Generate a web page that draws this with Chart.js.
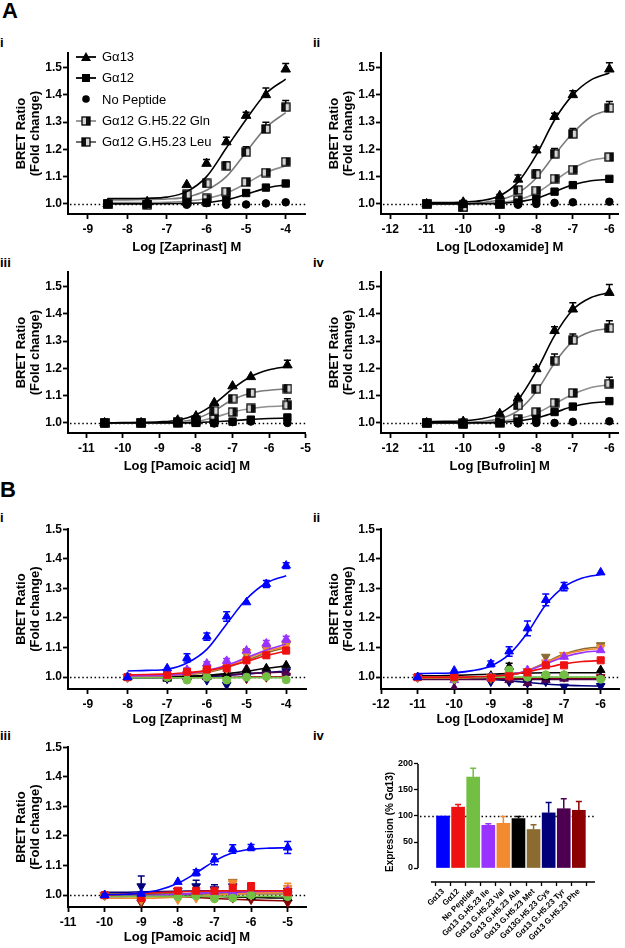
<!DOCTYPE html>
<html><head><meta charset="utf-8">
<script src="https://cdn.jsdelivr.net/npm/chart.js@4.4.1/dist/chart.umd.min.js"></script>
<style>
html,body{margin:0;padding:0;background:#fff;}
body{width:625px;height:948px;position:relative;overflow:hidden;font-family:"Liberation Sans",Arial,Helvetica,sans-serif;color:#000;}
.pl{position:absolute;font-weight:bold;line-height:1;white-space:nowrap;}
.big{font-size:22px;}
.sm{font-size:13px;}
canvas.ch{position:absolute;}
#legend{position:absolute;left:75px;top:46px;font-size:13px;line-height:1;}
.li{display:flex;align-items:center;height:21.3px;white-space:nowrap;}
.li canvas{margin-right:5px;}
</style></head><body>

<div class="pl big" style="left:2px;top:0px;">A</div>
<div class="pl sm" style="left:0px;top:36px;">i</div>
<div class="pl sm" style="left:313px;top:36px;">ii</div>
<div class="pl sm" style="left:0px;top:256px;">iii</div>
<div class="pl sm" style="left:313px;top:256px;">iv</div>
<div class="pl big" style="left:0px;top:479px;">B</div>
<div class="pl sm" style="left:0px;top:511px;">i</div>
<div class="pl sm" style="left:313px;top:511px;">ii</div>
<div class="pl sm" style="left:0px;top:729px;">iii</div>
<div class="pl sm" style="left:313px;top:729px;">iv</div>

<canvas class="ch" id="cAi" width="312" height="210" style="left:0px;top:45px;"></canvas>
<canvas class="ch" id="cAii" width="312" height="210" style="left:313px;top:45px;"></canvas>
<canvas class="ch" id="cAiii" width="314" height="210" style="left:0px;top:264px;"></canvas>
<canvas class="ch" id="cAiv" width="312" height="210" style="left:313px;top:264px;"></canvas>
<canvas class="ch" id="cBi" width="312" height="206" style="left:0px;top:521px;"></canvas>
<canvas class="ch" id="cBii" width="312" height="206" style="left:313px;top:521px;"></canvas>
<canvas class="ch" id="cBiii" width="312" height="206" style="left:0px;top:739px;"></canvas>
<canvas class="ch" id="cBiv" width="285" height="196" style="left:340px;top:752px;"></canvas>
<div id="legend"></div>

<script>
// ================= DATA =================
// ---- A i : Zaprinast ----
const AI_TICKS = [-9,-8,-7,-6,-5,-4];
const AI_X  = [-8.5,-7.5,-6.5,-6,-5.5,-5,-4.5,-4];
const AI_FX = [-8.5,-8,-7.5,-7,-6.5,-6,-5.5,-5,-4.5,-4];
const AI_G13 = [1.000,1.008,1.070,1.148,1.227,1.324,1.400,1.494];
const AI_G13_ERR = [0,0,0,0.015,0.018,0.012,0.025,0.021];
const AI_G13_FIT = [1.020,1.020,1.021,1.025,1.045,1.100,1.205,1.310,1.405,1.458];
const AI_G12 = [1.000,1.000,1.005,1.005,1.015,1.040,1.060,1.075];
const AI_G12_ERR = [0,0,0,0,0,0.004,0.004,0.004];
const AI_G12_FIT = [1.000,1.000,1.000,1.001,1.002,1.005,1.015,1.035,1.058,1.070];
const AI_NOP = [1.000,1.000,0.997,1.003,0.997,0.998,1.002,1.006];
const AI_LEU = [1.000,0.997,1.035,1.075,1.140,1.190,1.275,1.355];
const AI_LEU_ERR = [0,0,0,0.010,0.014,0.020,0.025,0.024];
const AI_LEU_FIT = [1.015,1.015,1.016,1.018,1.025,1.050,1.100,1.190,1.280,1.335];
const AI_GLN = [1.000,1.000,1.010,1.020,1.045,1.080,1.115,1.155];
const AI_GLN_ERR = [0,0,0,0.004,0.006,0.006,0.006,0.006];
const AI_GLN_FIT = [1.005,1.005,1.005,1.006,1.010,1.020,1.040,1.075,1.115,1.140];

// ---- A ii : Lodoxamide ----
const AII_TICKS = [-12,-11,-10,-9,-8,-7,-6];
const AII_X  = [-11,-10,-9,-8.5,-8,-7.5,-7,-6];
const AII_FX = [-11,-10.5,-10,-9.5,-9,-8.5,-8,-7.5,-7,-6.5,-6];
const AII_G13 = [1.000,1.006,1.030,1.090,1.197,1.320,1.400,1.494];
const AII_G13_ERR = [0,0,0.005,0.016,0.012,0.013,0.015,0.024];
const AII_G13_FIT = [1.005,1.005,1.007,1.012,1.030,1.080,1.180,1.308,1.400,1.455,1.480];
const AII_G12 = [1.000,1.000,1.000,1.005,1.018,1.045,1.069,1.092];
const AII_G12_FIT = [1.000,1.000,1.000,1.001,1.002,1.008,1.020,1.045,1.070,1.085,1.090];
const AII_NOP = [1.000,1.000,1.000,0.997,1.000,1.004,1.006,1.008];
const AII_LEU = [1.000,0.988,1.000,1.051,1.109,1.184,1.257,1.352];
const AII_LEU_ERR = [0,0,0,0.010,0.015,0.019,0.020,0.024];
const AII_LEU_FIT = [1.000,1.000,1.000,1.005,1.015,1.040,1.095,1.180,1.260,1.320,1.345];
const AII_GLN = [1.000,0.990,1.000,1.015,1.049,1.093,1.126,1.172];
const AII_GLN_ERR = [0,0,0,0,0.004,0.006,0.006,0.006];
const AII_GLN_FIT = [1.000,1.000,1.000,1.002,1.005,1.015,1.040,1.085,1.130,1.160,1.170];

// ---- A iii : Pamoic acid ----
const AIII_TICKS = [-11,-10,-9,-8,-7,-6,-5];
const AIII_X  = [-10.5,-9.5,-8.5,-8,-7.5,-7,-6.5,-5.5];
const AIII_FX = [-10.5,-10,-9.5,-9,-8.5,-8,-7.5,-7,-6.5,-6,-5.5];
const AIII_G13 = [1.000,1.000,1.010,1.025,1.074,1.135,1.169,1.212];
const AIII_G13_ERR = [0,0,0,0,0,0,0,0.018];
const AIII_G13_FIT = [1.000,1.001,1.002,1.004,1.010,1.030,1.070,1.125,1.170,1.195,1.207];
const AIII_G12 = [1.000,1.000,1.000,1.000,1.000,1.005,1.012,1.020];
const AIII_G12_FIT = [1.000,1.000,1.000,1.000,1.000,1.001,1.004,1.008,1.013,1.016,1.018];
const AIII_NOP = [1.000,1.000,1.000,1.000,0.998,1.003,1.005,1.000];
const AIII_LEU = [1.000,1.000,1.005,1.010,1.045,1.089,1.110,1.126];
const AIII_LEU_ERR = [0,0,0,0,0.005,0.005,0.006,0.012];
const AIII_LEU_FIT = [1.000,1.000,1.000,1.000,1.003,1.015,1.045,1.085,1.110,1.120,1.125];
const AIII_GLN = [1.000,1.000,1.000,1.005,1.015,1.040,1.053,1.065];
const AIII_GLN_ERR = [0,0,0,0,0,0.006,0.010,0.024];
const AIII_GLN_FIT = [1.000,1.000,1.000,1.000,1.001,1.005,1.020,1.040,1.053,1.060,1.063];

// ---- A iv : Bufrolin ----
const AIV_TICKS = [-12,-11,-10,-9,-8,-7,-6];
const AIV_X  = [-11,-10,-9,-8.5,-8,-7.5,-7,-6];
const AIV_FX = [-11,-10.5,-10,-9.5,-9,-8.5,-8,-7.5,-7,-6.5,-6];
const AIV_G13 = [1.000,1.005,1.034,1.091,1.198,1.338,1.417,1.478];
const AIV_G13_ERR = [0,0,0.004,0.006,0.008,0.015,0.024,0.030];
const AIV_G13_FIT = [1.005,1.006,1.008,1.015,1.035,1.085,1.190,1.320,1.415,1.460,1.478];
const AIV_G12 = [1.000,0.995,1.000,1.005,1.015,1.040,1.060,1.080];
const AIV_G12_FIT = [1.000,1.000,1.000,1.000,1.002,1.007,1.018,1.038,1.060,1.073,1.078];
const AIV_NOP = [1.000,1.000,1.000,0.998,1.000,1.000,1.004,1.006];
const AIV_LEU = [1.000,1.000,1.005,1.064,1.125,1.229,1.304,1.348];
const AIV_LEU_ERR = [0,0,0,0.006,0.008,0.024,0.022,0.027];
const AIV_LEU_FIT = [1.000,1.000,1.001,1.005,1.015,1.045,1.115,1.220,1.300,1.335,1.347];
const AIV_GLN = [1.000,0.995,1.000,1.015,1.040,1.074,1.110,1.144];
const AIV_GLN_ERR = [0,0,0,0,0.006,0.006,0.008,0.024];
const AIV_GLN_FIT = [1.000,1.000,1.000,1.002,1.006,1.015,1.035,1.070,1.105,1.130,1.140];

// ---- B i : Zaprinast ----
const BI_TICKS = [-9,-8,-7,-6,-5,-4];
const BI_X  = [-8,-7,-6.5,-6,-5.5,-5,-4.5,-4];
const BI_FX = [-8,-7.5,-7,-6.5,-6,-5.5,-5,-4.5,-4];
const BI_G13 = [1.000,1.030,1.065,1.137,1.205,1.253,1.315,1.377];
const BI_G13_ERR = [0,0,0.014,0.012,0.016,0,0.012,0.010];
const BI_G13_FIT = [1.021,1.023,1.027,1.048,1.094,1.180,1.264,1.318,1.343];
const BI_G12 = [1.000,1.008,1.018,1.026,1.030,1.057,1.074,1.090];
const BI_G12_ERR = [0,0.005,0.004,0.006,0.008,0.008,0.008,0.010];
const BI_G12_FIT = [1.008,1.009,1.011,1.015,1.022,1.035,1.053,1.073,1.088];
const BI_NOP = [1.000,1.000,0.990,1.000,0.990,1.000,1.002,0.991];
const BI_NOP_FIT = [0.998,0.998,0.998,0.998,0.998,0.998,0.998,0.998,0.998];
const BI_ILE = [1.000,1.005,1.025,1.046,1.055,1.090,1.114,1.128];
const BI_ILE_ERR = [0,0,0.006,0.006,0.008,0.006,0.010,0.010];
const BI_ILE_FIT = [1.004,1.005,1.007,1.012,1.022,1.040,1.066,1.092,1.112];
const BI_VAL = [1.000,1.003,1.010,1.020,1.030,1.085,1.100,1.115];
const BI_VAL_ERR = [0,0,0,0,0,0.006,0.006,0.008];
const BI_VAL_FIT = [1.003,1.004,1.006,1.010,1.018,1.036,1.062,1.088,1.104];
const BI_ALA = [1.000,0.995,1.000,1.003,1.010,1.024,1.030,1.040];
const BI_ALA_FIT = [1.000,1.000,1.001,1.003,1.006,1.012,1.020,1.030,1.038];
const BI_MET = [1.000,1.002,1.005,1.015,1.028,1.075,1.095,1.110];
const BI_MET_FIT = [1.002,1.003,1.005,1.009,1.016,1.032,1.056,1.082,1.100];
const BI_CYS = [1.000,0.995,0.998,0.990,0.974,1.000,1.010,1.020];
const BI_CYS_FIT = [0.998,0.998,0.999,1.000,1.002,1.006,1.011,1.016,1.020];
const BI_TYR = [1.000,1.000,1.005,1.000,1.010,1.028,1.020,1.015];
const BI_TYR_FIT = [1.000,1.000,1.001,1.002,1.004,1.008,1.012,1.015,1.017];
const BI_PHE = [1.000,1.002,0.998,1.000,1.000,0.995,1.000,1.005];
const BI_PHE_FIT = [0.999,0.999,0.999,0.999,0.999,0.999,1.000,1.000,1.000];

// ---- B ii : Lodoxamide ----
const BII_TICKS = [-12,-11,-10,-9,-8,-7,-6];
const BII_X  = [-11,-10,-9,-8.5,-8,-7.5,-7,-6];
const BII_FX = [-11,-10.5,-10,-9.5,-9,-8.5,-8,-7.5,-7,-6.5,-6];
const BII_G13 = [1.000,1.022,1.045,1.087,1.165,1.261,1.306,1.354];
const BII_G13_ERR = [0,0,0.010,0.016,0.025,0.020,0.014,0];
const BII_G13_FIT = [1.012,1.013,1.015,1.022,1.038,1.077,1.150,1.245,1.305,1.335,1.347];
const BII_G12 = [1.000,1.000,0.998,1.003,1.016,1.040,1.040,1.057];
const BII_G12_ERR = [0,0,0,0,0.004,0.006,0.006,0.006];
const BII_G12_FIT = [1.000,1.000,1.000,1.001,1.003,1.008,1.018,1.032,1.045,1.053,1.056];
const BII_NOP = [1.000,0.995,0.998,1.024,1.000,1.008,1.008,0.993];
const BII_NOP_FIT = [1.000,1.000,1.000,1.000,1.000,1.000,1.000,1.000,1.000,1.000,1.000];
const BII_ILE = [1.000,0.990,1.000,1.005,1.024,1.046,1.069,1.091];
const BII_ILE_FIT = [1.000,1.000,1.000,1.000,1.002,1.008,1.022,1.045,1.068,1.083,1.089];
const BII_VAL = [1.000,0.995,1.000,1.008,1.020,1.050,1.075,1.100];
const BII_VAL_FIT = [0.998,0.998,0.998,0.999,1.001,1.007,1.022,1.048,1.075,1.090,1.097];
const BII_ALA = [1.000,1.000,1.005,1.035,1.000,1.000,1.005,1.024];
const BII_ALA_ERR = [0,0,0,0.012,0,0,0,0];
const BII_ALA_FIT = [1.005,1.005,1.006,1.008,1.010,1.012,1.014,1.015,1.015,1.015,1.015];
const BII_MET = [1.000,0.995,0.995,1.005,1.020,1.069,1.075,1.108];
const BII_MET_FIT = [0.997,0.997,0.997,0.998,1.000,1.006,1.022,1.050,1.078,1.095,1.102];
const BII_CYS = [1.000,0.990,0.985,0.985,0.980,0.985,0.968,0.970];
const BII_CYS_FIT = [1.000,1.000,0.999,0.997,0.993,0.988,0.982,0.977,0.973,0.971,0.970];
const BII_TYR = [1.000,0.963,1.000,0.990,0.980,0.990,0.995,1.000];
const BII_TYR_FIT = [0.992,0.992,0.992,0.992,0.992,0.992,0.992,0.992,0.992,0.992,0.992];
const BII_PHE = [1.000,0.995,0.990,1.000,0.995,1.000,1.000,1.000];
const BII_PHE_FIT = [0.996,0.996,0.996,0.996,0.996,0.996,0.996,0.996,0.996,0.996,0.996];

// ---- B iii : Pamoic acid ----
const BIII_TICKS = [-11,-10,-9,-8,-7,-6,-5];
const BIII_X  = [-10,-9,-8,-7.5,-7,-6.5,-6,-5];
const BIII_FX = [-10,-9.5,-9,-8.5,-8,-7.5,-7,-6.5,-6,-5.5,-5];
const BIII_G13 = [1.000,1.005,1.045,1.076,1.121,1.156,1.161,1.161];
const BIII_G13_ERR = [0,0,0,0.010,0.018,0.014,0.010,0.020];
const BIII_G13_FIT = [1.002,1.003,1.007,1.018,1.040,1.075,1.115,1.143,1.155,1.159,1.160];
const BIII_G12 = [1.000,0.990,1.015,1.015,1.015,1.025,1.030,1.010];
const BIII_G12_ERR = [0,0,0,0,0,0.010,0.012,0];
const BIII_G12_FIT = [1.000,1.003,1.006,1.009,1.011,1.013,1.014,1.015,1.015,1.015,1.015];
const BIII_NOP = [1.000,0.995,0.995,0.998,0.988,0.990,1.000,0.995];
const BIII_NOP_FIT = [0.996,0.996,0.996,0.996,0.996,0.996,0.996,0.996,0.996,0.996,0.996];
const BIII_ILE = [1.000,0.990,1.005,1.010,1.010,1.010,1.010,1.015];
const BIII_ILE_FIT = [0.995,0.996,0.998,1.000,1.003,1.006,1.009,1.011,1.012,1.013,1.013];
const BIII_VAL = [1.000,0.985,0.985,0.990,0.990,1.040,1.000,1.025];
const BIII_VAL_ERR = [0,0,0,0,0,0.010,0,0.015];
const BIII_VAL_FIT = [0.990,0.990,0.990,0.991,0.993,0.996,1.000,1.004,1.007,1.009,1.010];
const BIII_ALA = [1.000,1.000,1.005,1.000,1.005,1.000,0.995,0.990];
const BIII_ALA_FIT = [1.003,1.003,1.003,1.003,1.002,1.000,0.997,0.994,0.992,0.991,0.990];
const BIII_MET = [1.000,0.980,1.000,1.000,1.000,1.045,1.000,1.000];
const BIII_MET_FIT = [1.004,1.004,1.004,1.004,1.004,1.004,1.004,1.004,1.004,1.004,1.004];
const BIII_CYS = [1.000,1.030,1.015,1.030,1.020,1.030,1.000,1.015];
const BIII_CYS_ERR = [0,0.035,0,0.020,0.015,0.020,0,0];
const BIII_CYS_FIT = [1.010,1.010,1.011,1.012,1.013,1.014,1.015,1.015,1.015,1.015,1.015];
const BIII_TYR = [1.000,0.995,1.000,1.005,1.010,1.015,1.000,1.020];
const BIII_TYR_FIT = [0.998,0.999,1.000,1.002,1.004,1.006,1.008,1.010,1.011,1.012,1.012];
const BIII_PHE = [1.000,0.975,1.000,1.000,0.995,0.990,0.985,0.975];
const BIII_PHE_FIT = [1.000,1.000,0.999,0.997,0.995,0.992,0.989,0.986,0.984,0.982,0.981];

// ---- B iv : expression bar chart ----
const BAR_LABELS = ['Gα13','Gα12','No Peptide','Gα13 G.H5.23 Ile','Gα13 G.H5.23 Val','Gα13 G.H5.23 Ala','Gα13 G.H5.23 Met','Gα13G.H5.23 Cys','Gα13 G.H5.23 Tyr','Gα13 G.H5.23 Phe'];
const BAR_VALUES = [100,117,175,82,86,95,74,106,114,111];
const BAR_ERR = [0,5,17,3,13,4,9,20,19,17];
const BAR_TICKS = [0,50,100,150,200];

const Y_TICKS = [1.0,1.1,1.2,1.3,1.4,1.5];
const LEGEND_LABELS = ['Gα13','Gα12','No Peptide','Gα12 G.H5.22 Gln','Gα12 G.H5.23 Leu'];

// ================= STYLE =================
const FONT = '"Liberation Sans", Arial, Helvetica, sans-serif';
const C = {g13:'#0000ff', g12:'#ee1111', nop:'#72bf44', ile:'#9933ff', val:'#f28a30', ala:'#000000',
           met:'#8c6b30', cys:'#00007a', tyr:'#4d0050', phe:'#8b0000'};
const BAR_COLORS = [C.g13,C.g12,C.nop,C.ile,C.val,C.ala,C.met,C.cys,C.tyr,C.phe];

function halfSquare(darkRight){
  const c = document.createElement('canvas'); c.width = 10; c.height = 10;
  const g = c.getContext('2d');
  g.fillStyle = '#d6d6d6'; g.fillRect(1,1,8,8);
  g.fillStyle = '#111'; if (darkRight) g.fillRect(5,1,4,8); else g.fillRect(1,1,4,8);
  g.strokeStyle = '#000'; g.lineWidth = 1.3; g.strokeRect(1,1,8,8);
  return c;
}
const SQ_GLN = halfSquare(true);
const SQ_LEU = halfSquare(false);

// ================= PLUGINS =================
const refLine = {
  id:'refLine',
  beforeDatasetsDraw(chart, args, opts){
    if (opts.value === undefined) return;
    const {ctx, chartArea:a, scales:{y}} = chart;
    const py = Math.round(y.getPixelForValue(opts.value)) + 0.5;
    ctx.save(); ctx.strokeStyle = '#000'; ctx.lineWidth = 1.5; ctx.setLineDash([1.5,2.6]);
    ctx.beginPath(); ctx.moveTo(a.left + 2, py); ctx.lineTo(a.right, py); ctx.stroke(); ctx.restore();
  }
};
const errBars = {
  id:'errBars',
  beforeDatasetDraw(chart, args){
    const ds = chart.data.datasets[args.index];
    if (!ds.errors) return;
    const y = chart.scales.y, ctx = chart.ctx;
    ctx.save(); ctx.lineWidth = 1.5; ctx.setLineDash([]);
    args.meta.data.forEach((el, i) => {
      const e = ds.errors[i]; if (!e) return;
      const d = ds.data[i]; const v = (typeof d === 'object') ? d.y : d;
      ctx.strokeStyle = Array.isArray(ds.errColor) ? ds.errColor[i] : ds.errColor;
      const top = y.getPixelForValue(v + e);
      const bot = ds.errBoth ? y.getPixelForValue(v - e) : el.y;
      const cw = ds.capW || 3.5;
      ctx.beginPath(); ctx.moveTo(el.x, bot); ctx.lineTo(el.x, top);
      ctx.moveTo(el.x - cw, top); ctx.lineTo(el.x + cw, top);
      if (ds.errBoth){ ctx.moveTo(el.x - cw, bot); ctx.lineTo(el.x + cw, bot); }
      ctx.stroke();
    });
    ctx.restore();
  }
};
const barAxes = {
  id:'barAxes',
  afterDraw(chart, args, opts){
    const {ctx, chartArea:a, scales:{x, y}} = chart;
    ctx.save(); ctx.strokeStyle = '#000'; ctx.lineWidth = 1.5;
    ctx.beginPath();
    ctx.moveTo(a.left, y.getPixelForValue(0)); ctx.lineTo(a.left, y.getPixelForValue(200));
    ctx.moveTo(x.getPixelForValue(opts.xStart), a.bottom); ctx.lineTo(a.right, a.bottom);
    ctx.stroke(); ctx.restore();
  }
};

function mk(xs, ys){ return xs.map((x, i) => ({x, y: ys[i]})); }

function linePanel(id, o){
  const ds = [];
  o.series.forEach(s => {
    ds.push({
      data: mk(o.x, s.y), showLine:false,
      pointStyle: s.style, pointRotation: s.rot || 0, pointRadius: s.r, pointHoverRadius: s.r,
      pointBackgroundColor: s.fill || s.color, pointBorderColor: s.color, pointBorderWidth: 1,
      errors: s.err, errBoth: o.both, errColor: s.errColor || s.color
    });
    if (s.fit) ds.push({
      data: mk(o.fx, s.fit), showLine:true, pointRadius:0, borderColor: s.line || s.color,
      borderWidth: 1.6, cubicInterpolationMode:'monotone', fill:false
    });
  });
  const tickFont = {family:FONT, size:12, weight:'bold'};
  const titleFont = {family:FONT, size:13, weight:'bold', lineHeight:1.1};
  return new Chart(document.getElementById(id), {
    type:'scatter',
    data:{datasets: ds},
    options:{
      responsive:false, maintainAspectRatio:false, animation:false, devicePixelRatio:1, events:[],
      layout:{padding:o.pad},
      plugins:{legend:{display:false}, tooltip:{enabled:false}, refLine:{value:1}},
      scales:{
        x:{
          type:'linear', min:o.xMin, max:o.xMax,
          afterBuildTicks: s => { s.ticks = o.xTicks.map(v => ({value:v})); },
          afterFit: s => { s.height = o.xh; },
          ticks:{color:'#000', font:tickFont, padding:3, maxRotation:0, autoSkip:false, callback: v => String(v)},
          grid:{display:true, drawOnChartArea:false, drawTicks:true, tickLength:5, tickWidth:1.8, tickColor:'#000'},
          border:{display:true, color:'#000', width:2},
          title:{display:true, text:o.xTitle, color:'#000', font:titleFont, padding:{top:0, bottom:0}}
        },
        y:{
          type:'linear', min:o.yMin, max:o.yMax,
          afterBuildTicks: s => { s.ticks = Y_TICKS.map(v => ({value:v})); },
          afterFit: s => { s.width = 68; },
          ticks:{color:'#000', font:tickFont, padding:1, autoSkip:false, callback: v => Number(v).toFixed(1)},
          grid:{display:true, drawOnChartArea:false, drawTicks:true, tickLength:5, tickWidth:1.8, tickColor:'#000'},
          border:{display:true, color:'#000', width:2},
          title:{display:true, text:['BRET Ratio','(Fold change)'], color:'#000', font:titleFont, padding:{top:14, bottom:0}}
        }
      }
    },
    plugins:[refLine, errBars]
  });
}

// ---- A panel series builder ----
function aSeries(g13, g13e, g13f, g12, g12e, g12f, nop, leu, leue, leuf, gln, glne, glnf){
  return [
    {y:g13, err:g13e, fit:g13f, color:'#000', style:'triangle', r:5.5, errColor:'#000'},
    {y:g12, err:g12e, fit:g12f, color:'#000', style:'rect', r:5.2, errColor:'#000'},
    {y:nop, color:'#000', style:'circle', r:3.8},
    {y:leu, err:leue, fit:leuf, color:'#000', line:'#7a7a7a', style:SQ_LEU, r:5, errColor:'#000'},
    {y:gln, err:glne, fit:glnf, color:'#000', line:'#8f8f8f', style:SQ_GLN, r:5, errColor:'#000'}
  ];
}
const A_Y = {yMin:0.963, yMax:1.553, xh:41, both:false};

linePanel('cAi', Object.assign({}, A_Y, {pad:{top:8,right:2,left:0,bottom:0}, xMin:-9.5, xMax:-3.5, xTicks:AI_TICKS,
  xTitle:'Log [Zaprinast] M', x:AI_X, fx:AI_FX,
  series: aSeries(AI_G13,AI_G13_ERR,AI_G13_FIT,AI_G12,AI_G12_ERR,AI_G12_FIT,AI_NOP,AI_LEU,AI_LEU_ERR,AI_LEU_FIT,AI_GLN,AI_GLN_ERR,AI_GLN_FIT)}));
linePanel('cAii', Object.assign({}, A_Y, {pad:{top:8,right:1,left:0,bottom:0}, xMin:-12.25, xMax:-5.75, xTicks:AII_TICKS,
  xTitle:'Log [Lodoxamide] M', x:AII_X, fx:AII_FX,
  series: aSeries(AII_G13,AII_G13_ERR,AII_G13_FIT,AII_G12,null,AII_G12_FIT,AII_NOP,AII_LEU,AII_LEU_ERR,AII_LEU_FIT,AII_GLN,AII_GLN_ERR,AII_GLN_FIT)}));
linePanel('cAiii', Object.assign({}, A_Y, {pad:{top:8,right:2,left:0,bottom:0}, xMin:-11.5, xMax:-5, xTicks:AIII_TICKS,
  xTitle:'Log [Pamoic acid] M', x:AIII_X, fx:AIII_FX,
  series: aSeries(AIII_G13,AIII_G13_ERR,AIII_G13_FIT,AIII_G12,null,AIII_G12_FIT,AIII_NOP,AIII_LEU,AIII_LEU_ERR,AIII_LEU_FIT,AIII_GLN,AIII_GLN_ERR,AIII_GLN_FIT)}));
linePanel('cAiv', Object.assign({}, A_Y, {pad:{top:8,right:1,left:0,bottom:0}, xMin:-12.25, xMax:-5.75, xTicks:AIV_TICKS,
  xTitle:'Log [Bufrolin] M', x:AIV_X, fx:AIV_FX,
  series: aSeries(AIV_G13,AIV_G13_ERR,AIV_G13_FIT,AIV_G12,null,AIV_G12_FIT,AIV_NOP,AIV_LEU,AIV_LEU_ERR,AIV_LEU_FIT,AIV_GLN,AIV_GLN_ERR,AIV_GLN_FIT)}));

// ---- B panel series builder ----
function bSeries(p){
  return [
    {y:p.G13, err:p.G13_ERR, fit:p.G13_FIT, color:C.g13, style:'triangle', r:5},
    {y:p.G12, err:p.G12_ERR, fit:p.G12_FIT, color:C.g12, style:'rect', r:5},
    {y:p.NOP, err:p.NOP_ERR, fit:p.NOP_FIT, color:C.nop, style:'circle', r:4},
    {y:p.ILE, err:p.ILE_ERR, fit:p.ILE_FIT, color:C.ile, style:'triangle', r:5},
    {y:p.VAL, err:p.VAL_ERR, fit:p.VAL_FIT, color:C.val, style:'triangle', rot:180, r:5},
    {y:p.MET, err:p.MET_ERR, fit:p.MET_FIT, color:C.met, style:'triangle', rot:180, r:5},
    {y:p.ALA, err:p.ALA_ERR, fit:p.ALA_FIT, color:C.ala, style:'triangle', r:5},
    {y:p.TYR, err:p.TYR_ERR, fit:p.TYR_FIT, color:C.tyr, style:'triangle', r:5},
    {y:p.CYS, err:p.CYS_ERR, fit:p.CYS_FIT, color:C.cys, style:'triangle', rot:180, r:5},
    {y:p.PHE, err:p.PHE_ERR, fit:p.PHE_FIT, color:C.phe, style:'triangle', rot:180, r:5}
  ];
}
const B_Y = {yMin:0.96, yMax:1.5, xh:38, both:true};

linePanel('cBi', Object.assign({}, B_Y, {pad:{top:8,right:2,left:0,bottom:0}, xMin:-9.5, xMax:-3.5, xTicks:BI_TICKS,
  xTitle:'Log [Zaprinast] M', x:BI_X, fx:BI_FX,
  series: bSeries({G13:BI_G13,G13_ERR:BI_G13_ERR,G13_FIT:BI_G13_FIT,G12:BI_G12,G12_ERR:BI_G12_ERR,G12_FIT:BI_G12_FIT,
    NOP:BI_NOP,NOP_FIT:BI_NOP_FIT,ILE:BI_ILE,ILE_ERR:BI_ILE_ERR,ILE_FIT:BI_ILE_FIT,VAL:BI_VAL,VAL_ERR:BI_VAL_ERR,VAL_FIT:BI_VAL_FIT,
    ALA:BI_ALA,ALA_FIT:BI_ALA_FIT,MET:BI_MET,MET_FIT:BI_MET_FIT,CYS:BI_CYS,CYS_FIT:BI_CYS_FIT,TYR:BI_TYR,TYR_FIT:BI_TYR_FIT,PHE:BI_PHE,PHE_FIT:BI_PHE_FIT})}));
linePanel('cBii', Object.assign({}, B_Y, {pad:{top:8,right:5,left:0,bottom:0}, xMin:-12, xMax:-5.5, xTicks:BII_TICKS,
  xTitle:'Log [Lodoxamide] M', x:BII_X, fx:BII_FX,
  series: bSeries({G13:BII_G13,G13_ERR:BII_G13_ERR,G13_FIT:BII_G13_FIT,G12:BII_G12,G12_ERR:BII_G12_ERR,G12_FIT:BII_G12_FIT,
    NOP:BII_NOP,NOP_FIT:BII_NOP_FIT,ILE:BII_ILE,ILE_FIT:BII_ILE_FIT,VAL:BII_VAL,VAL_FIT:BII_VAL_FIT,
    ALA:BII_ALA,ALA_ERR:BII_ALA_ERR,ALA_FIT:BII_ALA_FIT,MET:BII_MET,MET_FIT:BII_MET_FIT,CYS:BII_CYS,CYS_FIT:BII_CYS_FIT,TYR:BII_TYR,TYR_FIT:BII_TYR_FIT,PHE:BII_PHE,PHE_FIT:BII_PHE_FIT})}));
linePanel('cBiii', Object.assign({}, B_Y, {pad:{top:8,right:2,left:0,bottom:0}, xMin:-11, xMax:-4.5, xTicks:BIII_TICKS,
  xTitle:'Log [Pamoic acid] M', x:BIII_X, fx:BIII_FX,
  series: bSeries({G13:BIII_G13,G13_ERR:BIII_G13_ERR,G13_FIT:BIII_G13_FIT,G12:BIII_G12,G12_ERR:BIII_G12_ERR,G12_FIT:BIII_G12_FIT,
    NOP:BIII_NOP,NOP_FIT:BIII_NOP_FIT,ILE:BIII_ILE,ILE_FIT:BIII_ILE_FIT,VAL:BIII_VAL,VAL_ERR:BIII_VAL_ERR,VAL_FIT:BIII_VAL_FIT,
    ALA:BIII_ALA,ALA_FIT:BIII_ALA_FIT,MET:BIII_MET,MET_FIT:BIII_MET_FIT,CYS:BIII_CYS,CYS_ERR:BIII_CYS_ERR,CYS_FIT:BIII_CYS_FIT,TYR:BIII_TYR,TYR_FIT:BIII_TYR_FIT,PHE:BIII_PHE,PHE_FIT:BIII_PHE_FIT})}));

// ---- B iv bar chart ----
new Chart(document.getElementById('cBiv'), {
  type:'bar',
  data:{datasets:[{
    data: BAR_VALUES.map((v, i) => ({x:i, y:v})),
    backgroundColor: BAR_COLORS, borderWidth:0, barThickness:13,
    errors: BAR_ERR, errBoth:false, errColor: BAR_COLORS, capW:3
  }]},
  options:{
    responsive:false, maintainAspectRatio:false, animation:false, devicePixelRatio:1, events:[],
    layout:{padding:{top:10, right:30, left:0, bottom:0}},
    plugins:{legend:{display:false}, tooltip:{enabled:false}, refLine:{value:100}, barAxes:{xStart:-0.8}},
    scales:{
      x:{
        type:'linear', min:-1.656, max:10.07, offset:false,
        afterBuildTicks: s => { s.ticks = BAR_LABELS.map((l, i) => ({value:i})); },
        afterFit: s => { s.height = 66; },
        ticks:{color:'#000', font:{family:FONT, size:8, weight:'bold'}, padding:1, minRotation:45, maxRotation:45, autoSkip:false,
               callback: v => BAR_LABELS[v]},
        grid:{display:true, drawOnChartArea:false, drawTicks:true, tickLength:4, tickWidth:1.3, tickColor:'#000'},
        border:{display:false}
      },
      y:{
        type:'linear', min:-26.9, max:203.8,
        afterBuildTicks: s => { s.ticks = BAR_TICKS.map(v => ({value:v})); },
        afterFit: s => { s.width = 78; },
        ticks:{color:'#000', font:{family:FONT, size:9, weight:'bold'}, padding:1, autoSkip:false},
        grid:{display:true, drawOnChartArea:false, drawTicks:true, tickLength:4, tickWidth:1.3, tickColor:'#000'},
        border:{display:false},
        title:{display:true, text:'Expression (% Gα13)', color:'#000', font:{family:FONT, size:10, weight:'bold', lineHeight:1.2}, padding:{top:44, bottom:0}}
      }
    }
  },
  plugins:[refLine, errBars, barAxes]
});

// ---- A i legend ----
const LEGEND_ICONS = [
  {line:'#000', mark:'tri'}, {line:'#000', mark:'sq'}, {line:null, mark:'circ'},
  {line:'#8f8f8f', mark:SQ_GLN}, {line:'#5e5e5e', mark:SQ_LEU}
];
const lg = document.getElementById('legend');
LEGEND_LABELS.forEach((txt, i) => {
  const row = document.createElement('div'); row.className = 'li';
  const cv = document.createElement('canvas'); cv.width = 22; cv.height = 14;
  const g = cv.getContext('2d'); const ic = LEGEND_ICONS[i];
  if (ic.line){ g.strokeStyle = ic.line; g.lineWidth = 1.8; g.beginPath(); g.moveTo(1,7); g.lineTo(21,7); g.stroke(); }
  g.fillStyle = '#000';
  if (ic.mark === 'tri'){ g.beginPath(); g.moveTo(11,2); g.lineTo(16,11); g.lineTo(6,11); g.closePath(); g.fill(); }
  else if (ic.mark === 'sq'){ g.fillRect(7,3,8,8); }
  else if (ic.mark === 'circ'){ g.beginPath(); g.arc(11,7,3.8,0,Math.PI*2); g.fill(); }
  else { g.drawImage(ic.mark, 6, 2); }
  const sp = document.createElement('span'); sp.textContent = txt;
  row.appendChild(cv); row.appendChild(sp); lg.appendChild(row);
});
</script>
</body></html>
